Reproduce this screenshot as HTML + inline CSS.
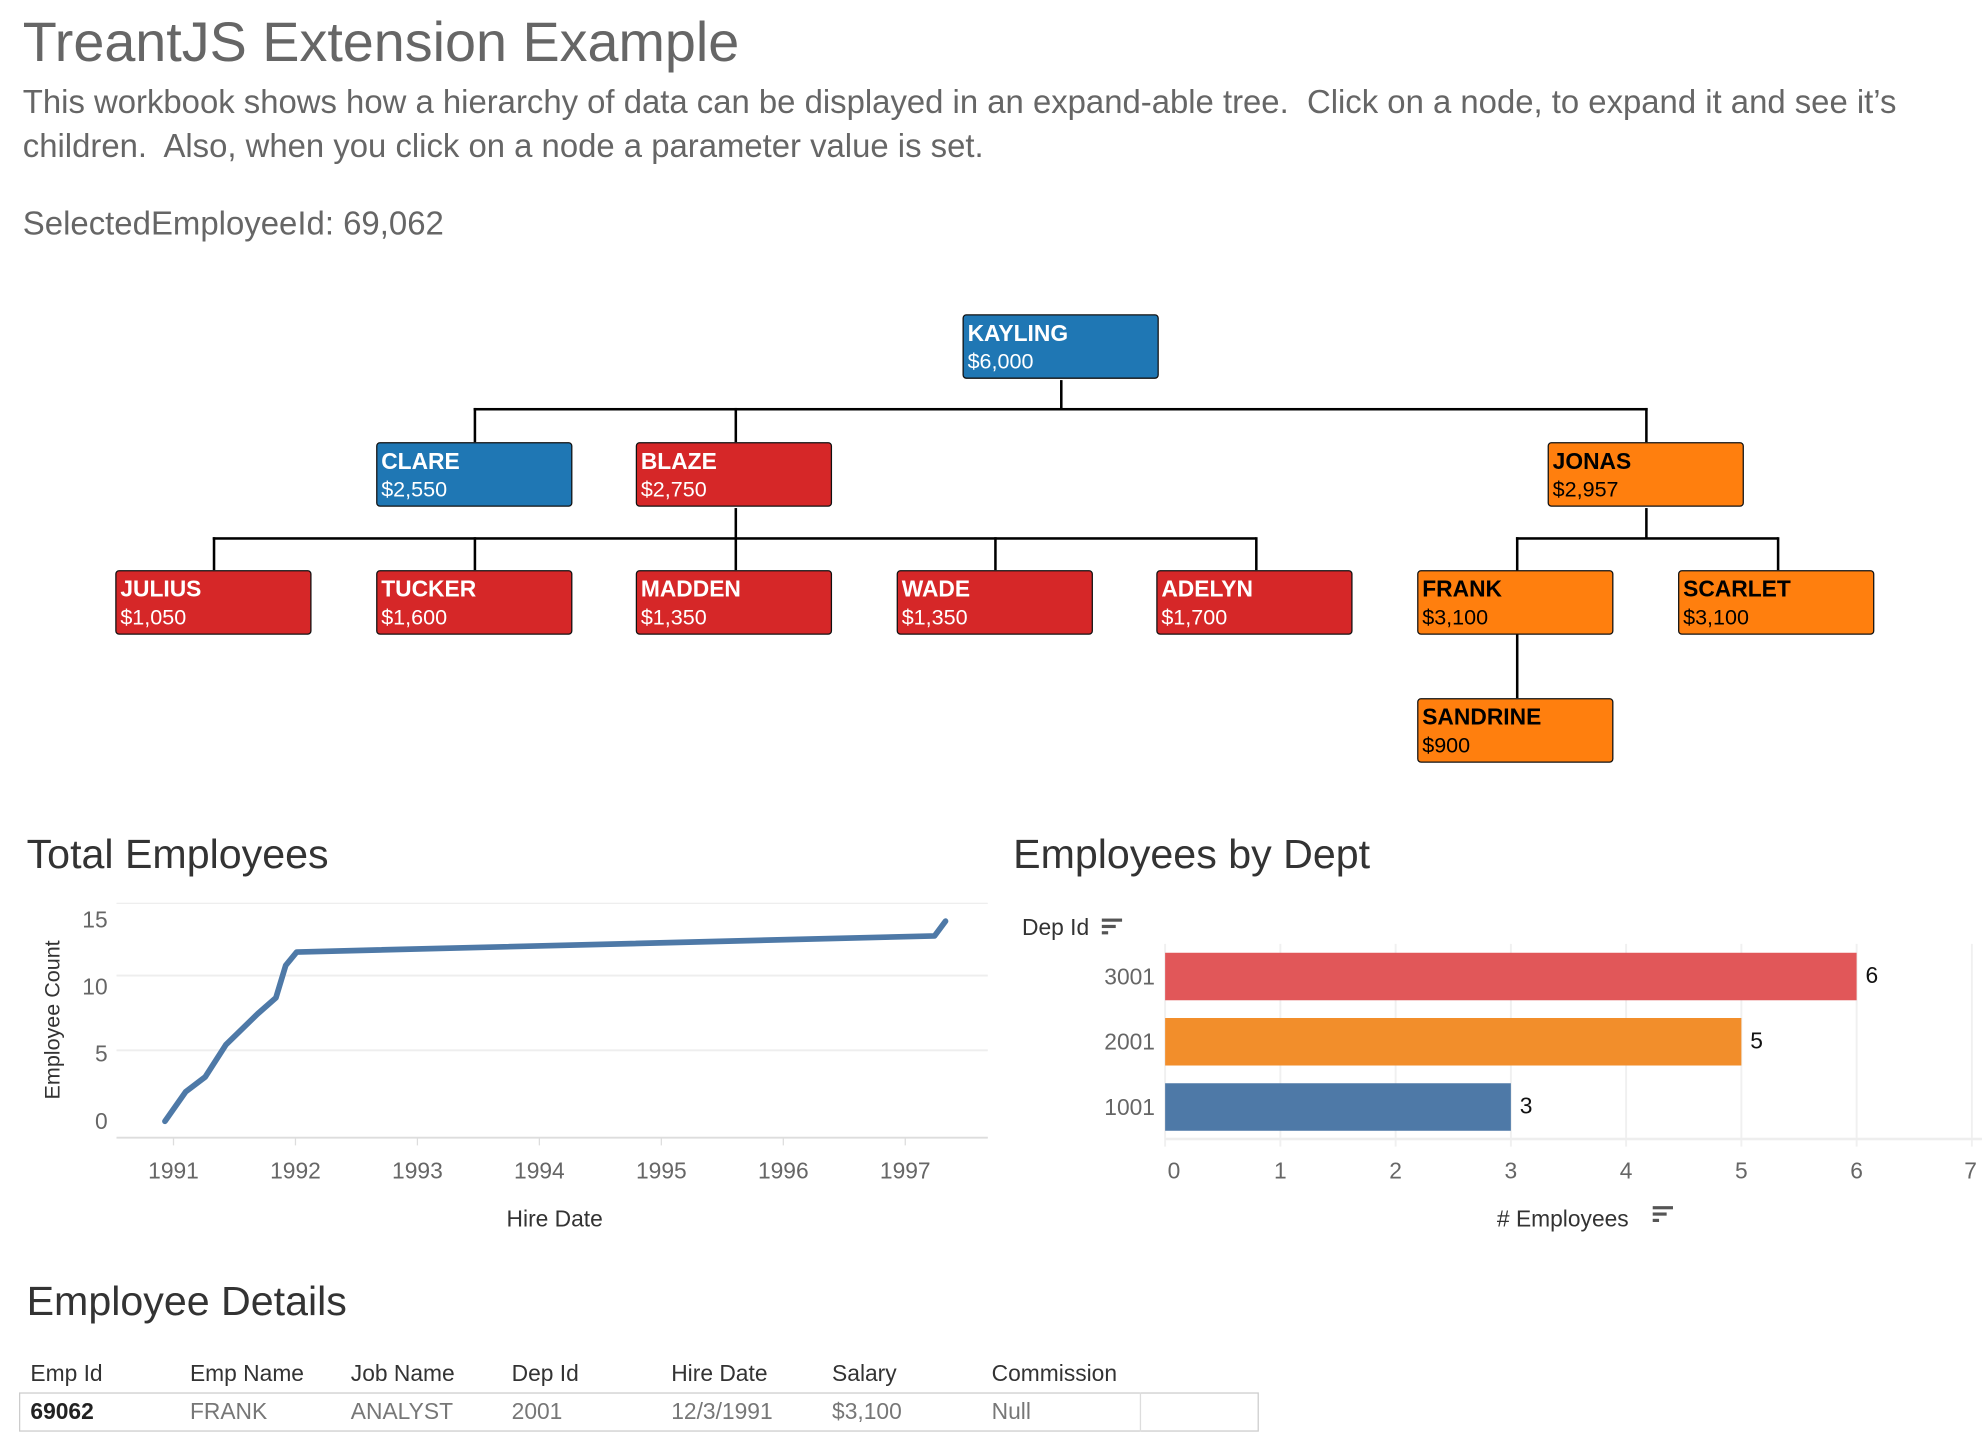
<!DOCTYPE html>
<html><head><meta charset="utf-8">
<style>
html,body{margin:0;padding:0;width:1982px;height:1438px;overflow:hidden;background:#fff;}
#wrap{position:absolute;left:0;top:0;width:1565px;height:1135px;transform:scale(1.26645,1.26696);transform-origin:0 0;font-family:"Liberation Sans",sans-serif;}
.abs{position:absolute;white-space:nowrap;}
.node{position:absolute;width:153px;height:49px;border:1.5px solid #111;border-radius:3px;box-sizing:content-box;font-family:"Liberation Sans",sans-serif;}
.node .n{position:absolute;left:3px;top:4px;font-weight:bold;font-size:18px;}
.node .s{position:absolute;left:3px;top:27px;font-size:17px;}
.blue{background:#1f77b4;color:#fff}.red{background:#d62728;color:#fff}.orange{background:#ff7f0e;color:#000}
.ln{position:absolute;background:#000;}
</style></head><body>
<div id="wrap">
<div class="abs" style="left:18px;top:9px;font-size:44px;color:#666;">TreantJS Extension Example</div>
<div class="abs" style="left:18px;top:63px;font-size:26px;line-height:35px;color:#666;transform:scaleX(0.998);transform-origin:0 0;">This workbook shows how a hierarchy of data can be displayed in an expand-able tree.&nbsp; Click on a node, to expand it and see it’s<br>children.&nbsp; Also, when you click on a node a parameter value is set.</div>
<div class="abs" style="left:18px;top:161px;font-size:26px;color:#666;">SelectedEmployeeId: 69,062</div>

<div id="tree">
<div class="ln" style="left:837px;top:300px;width:1.5px;height:24px"></div>
<div class="ln" style="left:374px;top:322px;width:927px;height:1.5px"></div>
<div class="ln" style="left:374px;top:322px;width:1.5px;height:27px"></div>
<div class="ln" style="left:580px;top:322px;width:1.5px;height:27px"></div>
<div class="ln" style="left:1299px;top:322px;width:1.5px;height:27px"></div>
<div class="ln" style="left:580px;top:401px;width:1.5px;height:49px"></div>
<div class="ln" style="left:168px;top:424px;width:824px;height:1.5px"></div>
<div class="ln" style="left:168px;top:424px;width:1.5px;height:26px"></div>
<div class="ln" style="left:374px;top:424px;width:1.5px;height:26px"></div>
<div class="ln" style="left:785px;top:424px;width:1.5px;height:26px"></div>
<div class="ln" style="left:991px;top:424px;width:1.5px;height:26px"></div>
<div class="ln" style="left:1299px;top:401px;width:1.5px;height:24px"></div>
<div class="ln" style="left:1197px;top:424px;width:207px;height:1.5px"></div>
<div class="ln" style="left:1197px;top:424px;width:1.5px;height:127px"></div>
<div class="ln" style="left:1403px;top:424px;width:1.5px;height:26px"></div>

<div class="node blue" style="left:760px;top:248px"><span class="n">KAYLING</span><span class="s">$6,000</span></div>
<div class="node blue" style="left:297px;top:349px"><span class="n">CLARE</span><span class="s">$2,550</span></div>
<div class="node red" style="left:502px;top:349px"><span class="n">BLAZE</span><span class="s">$2,750</span></div>
<div class="node orange" style="left:1222px;top:349px"><span class="n">JONAS</span><span class="s">$2,957</span></div>
<div class="node red" style="left:91px;top:450px"><span class="n">JULIUS</span><span class="s">$1,050</span></div>
<div class="node red" style="left:297px;top:450px"><span class="n">TUCKER</span><span class="s">$1,600</span></div>
<div class="node red" style="left:502px;top:450px"><span class="n">MADDEN</span><span class="s">$1,350</span></div>
<div class="node red" style="left:708px;top:450px"><span class="n">WADE</span><span class="s">$1,350</span></div>
<div class="node red" style="left:913px;top:450px"><span class="n">ADELYN</span><span class="s">$1,700</span></div>
<div class="node orange" style="left:1119px;top:450px"><span class="n">FRANK</span><span class="s">$3,100</span></div>
<div class="node orange" style="left:1325px;top:450px"><span class="n">SCARLET</span><span class="s">$3,100</span></div>
<div class="node orange" style="left:1119px;top:551px"><span class="n">SANDRINE</span><span class="s">$900</span></div>
</div>

<div class="abs" style="left:21px;top:656px;font-size:32.5px;color:#333;">Total Employees</div>
<div class="abs" style="left:800px;top:656px;font-size:32.5px;color:#333;">Employees by Dept</div>

<svg id="line" width="800" height="300" style="position:absolute;left:0;top:690px"></svg>
<svg id="bar" width="780" height="300" style="position:absolute;left:785px;top:690px"></svg>

<div class="abs" style="left:21px;top:1009px;font-size:32.5px;color:#333;">Employee Details</div>
<div>
<div class="abs" style="left:15px;top:1099px;width:979px;height:31px;border:1.5px solid #ccc;box-sizing:border-box;"></div>
<div class="abs" style="left:900px;top:1099px;width:1px;height:31px;background:#ddd;"></div>
<div id="tbl"></div>
</div>
</div>
<script>
const NS="http://www.w3.org/2000/svg";
function mk(p,t,a){const e=document.createElementNS(NS,t);for(const k in a)e.setAttribute(k,a[k]);p.appendChild(e);return e;}
// ---- line chart data ----
const hireDates=[1990.93,1991.10,1991.26,1991.43,1991.69,1991.84,1991.92,1992.01,1997.24,1997.33];
const empCounts=[0,2.2,3.3,5.7,8.0,9.2,11.6,12.6,13.8,14.9];
const yearTicks=[1991,1992,1993,1994,1995,1996,1997];
const countTicks=[0,5,10,15];
const L=document.getElementById('line');
const lx=t=>137+(t-1991)*96.3;
const ly=v=>195-v*10.6;
mk(L,'line',{x1:92,x2:780,y1:23,y2:23,stroke:'#eee'});
countTicks.forEach(v=>{
  if(v>0&&v<15){const g=mk(L,'line',{x1:92,x2:780,y1:ly(v)-(v==10?9:3),y2:ly(v)-(v==10?9:3),stroke:'#eee','stroke-width':1.5});}
  const t=mk(L,'text',{x:85,y:ly(v)+6,'text-anchor':'end','font-size':18,fill:'#666','font-family':'Liberation Sans'});t.textContent=v;
  
});
mk(L,'line',{x1:92,x2:780,y1:208,y2:208,stroke:'#ddd','stroke-width':1.5});
yearTicks.forEach(y=>{
  const t=mk(L,'text',{x:lx(y),y:240,'text-anchor':'middle','font-size':18,fill:'#666','font-family':'Liberation Sans'});t.textContent=y;
  
  mk(L,'line',{x1:lx(y),x2:lx(y),y1:208,y2:214,stroke:'#ddd'});
});
const pts=hireDates.map((d,i)=>lx(d)+','+ly(empCounts[i])).join(' ');
const pl=mk(L,'polyline',{points:pts,fill:'none',stroke:'#4e79a7','stroke-width':4.5,'stroke-linejoin':'round','stroke-linecap':'round'});


let t=mk(L,'text',{x:438,y:278,'text-anchor':'middle','font-size':18,fill:'#333','font-family':'Liberation Sans'});t.textContent='Hire Date';

t=mk(L,'text',{transform:'translate(47,115) rotate(-90)','text-anchor':'middle','font-size':17,fill:'#333','font-family':'Liberation Sans'});t.textContent='Employee Count';


// ---- bar chart data ----
const depts=['3001','2001','1001'];
const deptCounts=[6,5,3];
const deptColors=['#e15759','#f28e2b','#4e79a7'];
const bTicks=[0,1,2,3,4,5,6,7];
const B=document.getElementById('bar');
const bx=v=>135+v*91;
bTicks.forEach(v=>{
  const g=mk(B,'line',{x1:bx(v),x2:bx(v),y1:55,y2:215,stroke:'#f0f0f0','stroke-width':1.5});
  
  const tt=mk(B,'text',{x:bx(v)+(v==0?7:(v==7?-1:0)),y:240,'text-anchor':'middle','font-size':18,fill:'#666','font-family':'Liberation Sans'});tt.textContent=v;
  
});
mk(B,'line',{x1:135,x2:780,y1:209,y2:209,stroke:'#eee','stroke-width':2});
depts.forEach((d,i)=>{
  const y0=62+i*51.5;
  const r=mk(B,'rect',{x:bx(0),y:y0,width:bx(deptCounts[i])-bx(0),height:37.5,fill:deptColors[i]});
  
  const l=mk(B,'text',{x:127,y:y0+25,'text-anchor':'end','font-size':18,fill:'#666','font-family':'Liberation Sans'});l.textContent=d;
  
  const v=mk(B,'text',{x:bx(deptCounts[i])+7,y:y0+24,'font-size':18,fill:'#111','font-family':'Liberation Sans'});v.textContent=deptCounts[i];
  
});
t=mk(B,'text',{x:22,y:48,'font-size':18,fill:'#333','font-family':'Liberation Sans'});t.textContent='Dep Id';

[0,1,2].forEach(i=>mk(B,'rect',{x:85,y:35+i*5,width:[16,11,5][i],height:2.5,fill:'#555'}));
t=mk(B,'text',{x:397,y:278,'font-size':18,fill:'#333','font-family':'Liberation Sans'});t.textContent='# Employees';

[0,1,2].forEach(i=>mk(B,'rect',{x:520,y:262+i*5,width:[16,11,5][i],height:2.5,fill:'#555'}));

// ---- table ----
const heads=['Emp Id','Emp Name','Job Name','Dep Id','Hire Date','Salary','Commission'];
const row=['69062','FRANK','ANALYST','2001','12/3/1991','$3,100','Null'];
const colX=[24,150,277,404,530,657,783];
const tbl=document.getElementById('tbl');
heads.forEach((h,i)=>{
  const d=document.createElement('div');d.className='abs';
  
  
  d.style.cssText=`left:${colX[i]}px;top:1074px;font-size:18px;color:#333;`;
  d.textContent=h;tbl.appendChild(d);
  const c=document.createElement('div');c.className='abs';
  
  
  c.style.cssText=`left:${colX[i]}px;top:1104px;font-size:18px;color:${i==0?'#222':'#777'};${i==0?'font-weight:bold;':''}`;
  c.textContent=row[i];tbl.appendChild(c);
});
</script>
</body></html>
